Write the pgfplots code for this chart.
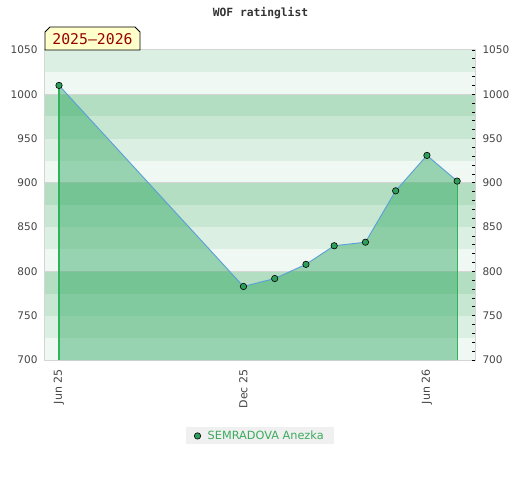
\documentclass[border=0pt]{standalone}
\usepackage{pgfplots}
\pgfplotsset{compat=1.18}
\usepackage{fontspec}
\setmainfont{DejaVu Sans}
\newfontfamily\monofont{DejaVu Sans Mono}
\definecolor{sA}{HTML}{B3DEC1}
\definecolor{sB}{HTML}{C8E7D3}
\definecolor{sC}{HTML}{DCEFE3}
\definecolor{sD}{HTML}{EFF8F2}
\definecolor{areafill}{HTML}{25A359}
\definecolor{linecol}{HTML}{5A9FD8}
\definecolor{markcol}{HTML}{2E9E5B}
\definecolor{vcol}{HTML}{2DB35A}
\definecolor{labcol}{HTML}{444444}
\definecolor{legtext}{HTML}{3CAA5E}
\definecolor{bordercol}{HTML}{D5D5D5}
\definecolor{boxfill}{HTML}{FFFFCC}
\definecolor{boxtext}{HTML}{990000}
\pgfplotstableread{
x y
0 1010
183 783
214 792
245 808
273 829
304 833
334 891
365 931
395 902
}\ratings
\begin{document}
\begin{tikzpicture}
\path[use as bounding box] (0pt,0pt) rectangle (520pt,480pt);
\begin{axis}[
  at={(45pt,120pt)}, anchor=south west,
  scale only axis, width=430pt, height=310pt,
  xmin=-13.9, xmax=412.7, ymin=700, ymax=1050,
  axis line style={bordercol, line width=1pt},
  xtick={0,183,365}, xticklabels={Jun 25, Dec 25, Jun 26},
  x tick label style={rotate=90, anchor=east, font=\fontsize{11}{12}\selectfont, text=labcol},
  xticklabel shift=6pt,
  ytick={700,750,...,1050},
  ytick pos=left, xtick pos=bottom,
  major tick length=0pt,
  y tick label style={font=\fontsize{10.5}{12}\selectfont, text=labcol},
  yticklabel shift=4pt,
  /pgf/number format/assume math mode=true,
  /pgf/number format/1000 sep={},
  legend style={at={(0.5,-0.245)}, anchor=center, fill=black!6, draw=none,
    font=\fontsize{11.3}{12}\selectfont, text=legtext, inner xsep=8pt, inner ysep=1.5pt,
    /tikz/every odd column/.append style={column sep=5pt}},
  legend cell align=left,
]
% background stripes
\fill[sD] (axis cs:-13.9,700) rectangle (axis cs:412.7,725);
\fill[sC] (axis cs:-13.9,725) rectangle (axis cs:412.7,750);
\fill[sB] (axis cs:-13.9,750) rectangle (axis cs:412.7,775);
\fill[sA] (axis cs:-13.9,775) rectangle (axis cs:412.7,800);
\fill[sD] (axis cs:-13.9,800) rectangle (axis cs:412.7,825);
\fill[sC] (axis cs:-13.9,825) rectangle (axis cs:412.7,850);
\fill[sB] (axis cs:-13.9,850) rectangle (axis cs:412.7,875);
\fill[sA] (axis cs:-13.9,875) rectangle (axis cs:412.7,900);
\fill[sD] (axis cs:-13.9,900) rectangle (axis cs:412.7,925);
\fill[sC] (axis cs:-13.9,925) rectangle (axis cs:412.7,950);
\fill[sB] (axis cs:-13.9,950) rectangle (axis cs:412.7,975);
\fill[sA] (axis cs:-13.9,975) rectangle (axis cs:412.7,1000);
\fill[sD] (axis cs:-13.9,1000) rectangle (axis cs:412.7,1025);
\fill[sC] (axis cs:-13.9,1025) rectangle (axis cs:412.7,1050);
\draw[bordercol, line width=1pt] (axis cs:-13.9,800) -- (axis cs:412.7,800);
\draw[bordercol, line width=1pt] (axis cs:-13.9,900) -- (axis cs:412.7,900);
\draw[bordercol, line width=1pt] (axis cs:-13.9,1000) -- (axis cs:412.7,1000);
\addplot[fill=areafill, fill opacity=0.43, draw=none, forget plot] table {\ratings} \closedcycle;
\addplot[color=vcol, line width=1.1pt, mark=none, forget plot] table[y index=1] {
x y
0 700
0 1010
};
\addplot[color=vcol, line width=1.1pt, mark=none, forget plot] table[y index=1] {
x y
395 700
395 902
};
\addplot[linecol, line width=0.9pt, mark=*, mark size=3.2pt,
  mark options={fill=markcol, draw=black, line width=0.6pt}, forget plot] table {\ratings};
\addlegendimage{only marks, mark=*, mark size=3.2pt, mark options={fill=markcol, draw=black, line width=0.6pt}}
\addlegendentry{SEMRADOVA Anezka}
\end{axis}
\begin{axis}[
  at={(45pt,120pt)}, anchor=south west,
  scale only axis, width=430pt, height=310pt,
  xmin=-13.9, xmax=412.7, ymin=700, ymax=1050,
  axis line style={draw=none},
  xtick=\empty,
  ytick={700,750,...,1050},
  minor y tick num=4,
  ytick pos=right, yticklabel pos=right,
  tick align=inside,
  major tick length=3pt, minor tick length=3pt,
  tick style={black, line width=0.8pt},
  y tick label style={font=\fontsize{10.5}{12}\selectfont, text=labcol},
  yticklabel shift=4pt,
  /pgf/number format/assume math mode=true,
  /pgf/number format/1000 sep={},
]
\end{axis}
\node[font=\monofont\bfseries\fontsize{11.3}{13}\selectfont, text=black!80] at (260.5pt,467pt) {WOF ratinglist};
\draw[black, line width=0.8pt, fill=boxfill] (45pt,430pt) -- (45pt,448pt) -- (50pt,453pt) -- (135pt,453pt) -- (140pt,448pt) -- (140pt,430pt) -- cycle;
\node[font=\monofont\fontsize{14.8}{16}\selectfont, text=boxtext] at (92.5pt,440.5pt) {2025–2026};
\end{tikzpicture}
\end{document}
